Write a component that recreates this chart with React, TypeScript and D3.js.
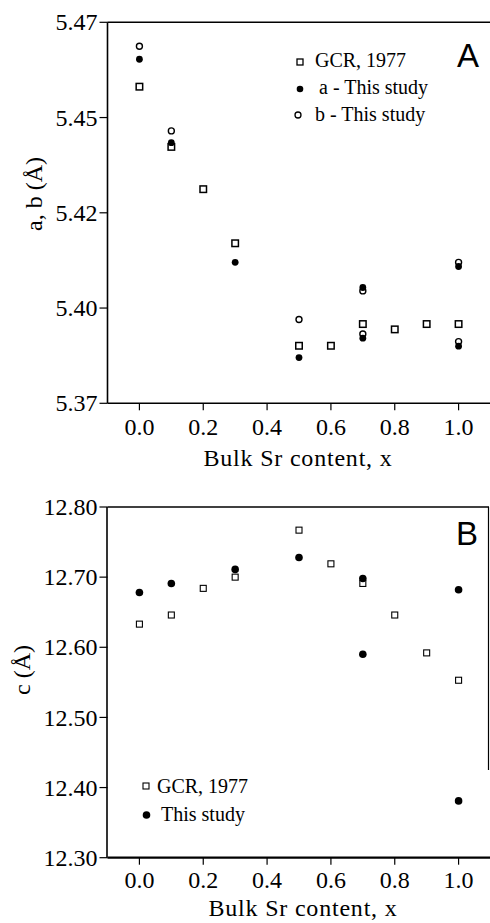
import React from "react";
import * as d3 from "d3";

// Panel A: lattice parameters a and b versus bulk Sr content
const gcrX = [0, 0.1, 0.2, 0.3, 0.5, 0.6, 0.7, 0.8, 0.9, 1.0];
const gcrAB = [5.4531, 5.4373, 5.4262, 5.412, 5.3851, 5.3851, 5.3908, 5.3894, 5.3908, 5.3908];
const studyAX = [0, 0.1, 0.3, 0.5, 0.7, 0.7, 1.0, 1.0];
const studyA = [5.4603, 5.4384, 5.407, 5.382, 5.4004, 5.3871, 5.4059, 5.385];
const studyBX = [0, 0.1, 0.5, 0.7, 0.7, 1.0, 1.0];
const studyB = [5.4637, 5.4415, 5.392, 5.3995, 5.3882, 5.407, 5.3862];

// Panel B: lattice parameter c versus bulk Sr content
const gcrCX = [0, 0.1, 0.2, 0.3, 0.5, 0.6, 0.7, 0.8, 0.9, 1.0];
const gcrC = [12.633, 12.646, 12.684, 12.7, 12.767, 12.719, 12.691, 12.646, 12.592, 12.553];
const studyCX = [0, 0.1, 0.3, 0.5, 0.7, 0.7, 1.0, 1.0];
const studyC = [12.678, 12.691, 12.711, 12.728, 12.698, 12.59, 12.682, 12.381];

// Axis ticks
const xTicks = [0, 0.2, 0.4, 0.6, 0.8, 1.0];
const xTickLabels = ["0.0", "0.2", "0.4", "0.6", "0.8", "1.0"];
const yTicksA = [5.37, 5.395, 5.42, 5.445, 5.47];
const yTickLabelsA = ["5.37", "5.40", "5.42", "5.45", "5.47"];
const yTicksB = [12.3, 12.4, 12.5, 12.6, 12.7, 12.8];
const yTickLabelsB = ["12.30", "12.40", "12.50", "12.60", "12.70", "12.80"];

const legendA = ["GCR, 1977", "a - This study", "b - This study"];
const legendB = ["GCR, 1977", "This study"];

const SERIF = "'Liberation Serif', 'Times New Roman', serif";
const SANS = "'Liberation Sans', Arial, sans-serif";

const LEFT = 107.5;
const RIGHT = 490.5;

function Square({ cx, cy, s = 6.5, sw = 1.5 }: { cx: number; cy: number; s?: number; sw?: number }) {
  return (
    <rect x={cx - s / 2} y={cy - s / 2} width={s} height={s} fill="#fff" stroke="#000" strokeWidth={sw} />
  );
}

export default function App() {
  const x = d3.scaleLinear().domain([-0.1, 1.1]).range([LEFT, RIGHT]);
  const yA = d3.scaleLinear().domain([5.37, 5.47]).range([403.3, 22.3]);
  const yB = d3.scaleLinear().domain([12.3, 12.8]).range([857.7, 507]);

  const xAxis = (y0: number, labelOffset: number) => (
    <g>
      {xTicks.map((t, i) => (
        <g key={i}>
          <line x1={x(t)} x2={x(t)} y1={y0} y2={y0 + 7} stroke="#000" strokeWidth={1.2} />
          <text x={x(t)} y={y0 + labelOffset} textAnchor="middle" fontFamily={SERIF} fontSize={24}>
            {xTickLabels[i]}
          </text>
        </g>
      ))}
    </g>
  );

  const yAxis = (scale: d3.ScaleLinear<number, number>, ticks: number[], labels: string[]) => (
    <g>
      {ticks.map((t, i) => (
        <g key={i}>
          <line x1={LEFT - 8} x2={LEFT} y1={scale(t)} y2={scale(t)} stroke="#000" strokeWidth={1.2} />
          <text x={LEFT - 10} y={scale(t)} dy="0.34em" textAnchor="end" fontFamily={SERIF} fontSize={24}>
            {labels[i]}
          </text>
        </g>
      ))}
    </g>
  );

  return (
    <svg
      width={490}
      height={923}
      style={{ position: "absolute", left: 0, top: 0, background: "#fff" }}
    >
      <rect x={0} y={0} width={490} height={923} fill="#fff" />

      {/* Panel A frame */}
      <line x1={LEFT} x2={LEFT} y1={yA(5.47)} y2={yA(5.37)} stroke="#000" strokeWidth={1.6} />
      <line x1={LEFT} x2={RIGHT} y1={yA(5.47)} y2={yA(5.47)} stroke="#000" strokeWidth={1.4} />
      <line x1={LEFT} x2={RIGHT} y1={yA(5.37)} y2={yA(5.37)} stroke="#000" strokeWidth={1.6} />
      {yAxis(yA, yTicksA, yTickLabelsA)}
      {xAxis(yA(5.37), 32)}
      <text x={298} y={466} textAnchor="middle" fontFamily={SERIF} fontSize={24} letterSpacing={0.8}>
        Bulk Sr content, x
      </text>
      <text transform={`translate(42,194) rotate(-90)`} textAnchor="middle" fontFamily={SERIF} fontSize={24}>
        a, b (Å)
      </text>
      <text x={457} y={67} fontFamily={SANS} fontSize={33}>A</text>

      {/* Panel A data */}
      {gcrX.map((v, i) => (
        <Square key={`ga${i}`} cx={x(v)} cy={yA(gcrAB[i])} />
      ))}
      {studyAX.map((v, i) => (
        <circle key={`sa${i}`} cx={x(v)} cy={yA(studyA[i])} r={3.4} fill="#000" />
      ))}
      {studyBX.map((v, i) => (
        <circle key={`sb${i}`} cx={x(v)} cy={yA(studyB[i])} r={3} fill="none" stroke="#000" strokeWidth={1.4} />
      ))}

      {/* Panel A legend */}
      <Square cx={300} cy={62} s={6} sw={1.3} />
      <text x={315} y={67} fontFamily={SERIF} fontSize={20}>{legendA[0]}</text>
      <circle cx={300} cy={89} r={3.3} fill="#000" />
      <text x={319} y={94} fontFamily={SERIF} fontSize={20}>{legendA[1]}</text>
      <circle cx={298} cy={115} r={3} fill="none" stroke="#000" strokeWidth={1.3} />
      <text x={315} y={121} fontFamily={SERIF} fontSize={20}>{legendA[2]}</text>

      {/* Panel B frame */}
      <line x1={LEFT - 0.5} x2={LEFT - 0.5} y1={yB(12.8)} y2={yB(12.3)} stroke="#000" strokeWidth={1.6} />
      <line x1={LEFT} x2={489} y1={yB(12.8)} y2={yB(12.8)} stroke="#000" strokeWidth={1.4} />
      <line x1={LEFT} x2={RIGHT} y1={yB(12.3)} y2={yB(12.3)} stroke="#000" strokeWidth={2.2} />
      <line x1={488.5} x2={488.5} y1={yB(12.8)} y2={770} stroke="#000" strokeWidth={1.2} />
      {yAxis(yB, yTicksB, yTickLabelsB)}
      {xAxis(yB(12.3), 30)}
      <text x={303} y={916} textAnchor="middle" fontFamily={SERIF} fontSize={24} letterSpacing={0.8}>
        Bulk Sr content, x
      </text>
      <text transform={`translate(30,670) rotate(-90)`} textAnchor="middle" fontFamily={SERIF} fontSize={24}>
        c (Å)
      </text>
      <text x={456} y={545} fontFamily={SANS} fontSize={33}>B</text>

      {/* Panel B data */}
      {gcrCX.map((v, i) => (
        <Square key={`gc${i}`} cx={x(v)} cy={yB(gcrC[i])} s={6} sw={1.1} />
      ))}
      {studyCX.map((v, i) => (
        <circle key={`sc${i}`} cx={x(v)} cy={yB(studyC[i])} r={3.8} fill="#000" />
      ))}

      {/* Panel B legend */}
      <Square cx={146} cy={786} s={6} sw={1.1} />
      <text x={157} y={793} fontFamily={SERIF} fontSize={20}>{legendB[0]}</text>
      <circle cx={146.5} cy={815} r={3.8} fill="#000" />
      <text x={161} y={821} fontFamily={SERIF} fontSize={20}>{legendB[1]}</text>
    </svg>
  );
}
